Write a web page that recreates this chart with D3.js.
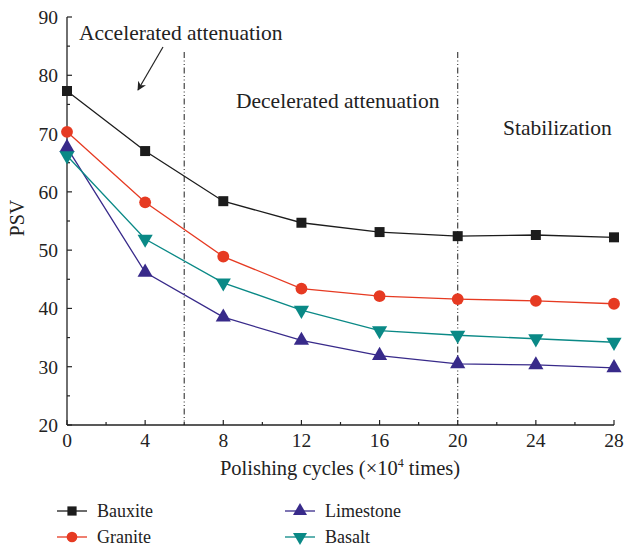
<!DOCTYPE html>
<html>
<head>
<meta charset="utf-8">
<script src="https://cdn.jsdelivr.net/npm/d3@7"></script>
<style>
  body { margin: 0; background: #fff; }
  text { font-family: "Liberation Serif", serif; fill: #222; }
</style>
</head>
<body>
<svg width="625" height="550"></svg>
<script>
const cycles = [0, 4, 8, 12, 16, 20, 24, 28];
const bauxite = [77.3, 67.0, 58.4, 54.7, 53.1, 52.4, 52.6, 52.2];
const granite = [70.3, 58.2, 48.9, 43.4, 42.1, 41.6, 41.3, 40.8];
const limestone = [67.6, 46.2, 38.5, 34.5, 31.9, 30.5, 30.3, 29.8];
const basalt = [66.2, 51.9, 44.4, 39.7, 36.2, 35.4, 34.8, 34.2];
const xTicks = [0, 4, 8, 12, 16, 20, 24, 28];
const yTicks = [20, 30, 40, 50, 60, 70, 80, 90];
const phaseBounds = [6, 20];

const series = [
  {name: 'Bauxite', values: bauxite, color: '#1c1c1c', shape: d3.symbolSquare, flip: false},
  {name: 'Granite', values: granite, color: '#e63a22', shape: d3.symbolCircle, flip: false},
  {name: 'Limestone', values: limestone, color: '#382a8a', shape: d3.symbolTriangle, flip: false},
  {name: 'Basalt', values: basalt, color: '#0a8986', shape: d3.symbolTriangle, flip: true},
];

const svg = d3.select('svg');
const x = d3.scaleLinear().domain([0, 28]).range([67, 614]);
const y = d3.scaleLinear().domain([20, 90]).range([425, 17]);

// phase separators (dash-dot-dot)
phaseBounds.forEach(b => {
  svg.append('line')
    .attr('x1', x(b)).attr('x2', x(b))
    .attr('y1', 52).attr('y2', y(20))
    .attr('stroke', '#333').attr('stroke-width', 1.1)
    .attr('stroke-dasharray', '6,2.5,1,2.5,1,2.5');
});

// axes
const g = svg.append('g');
g.append('line').attr('x1', x(0)).attr('x2', x(28)).attr('y1', y(20)).attr('y2', y(20))
  .attr('stroke', '#222').attr('stroke-width', 1.3);
g.append('line').attr('x1', x(0)).attr('x2', x(0)).attr('y1', y(20)).attr('y2', y(90))
  .attr('stroke', '#222').attr('stroke-width', 1.3);

d3.range(0, 29, 2).forEach(v => {
  const major = v % 4 === 0;
  g.append('line').attr('x1', x(v)).attr('x2', x(v))
    .attr('y1', y(20)).attr('y2', y(20) - (major ? 5 : 3))
    .attr('stroke', '#222').attr('stroke-width', 1.2);
});
d3.range(20, 91, 5).forEach(v => {
  const major = v % 10 === 0;
  g.append('line').attr('x1', x(0)).attr('x2', x(0) + (major ? 5 : 3))
    .attr('y1', y(v)).attr('y2', y(v))
    .attr('stroke', '#222').attr('stroke-width', 1.2);
});

g.selectAll('.xt').data(xTicks).join('text')
  .attr('x', d => x(d)).attr('y', y(20) + 22)
  .attr('text-anchor', 'middle').attr('font-size', 19.5)
  .text(d => d);
g.selectAll('.yt').data(yTicks).join('text')
  .attr('x', x(0) - 9).attr('y', d => y(d) + 7)
  .attr('text-anchor', 'end').attr('font-size', 19.5)
  .text(d => d);

svg.append('text')
  .attr('transform', 'translate(24,' + y(55.5) + ') rotate(-90)')
  .attr('text-anchor', 'middle').attr('font-size', 20)
  .text('PSV');

const xl = svg.append('text')
  .attr('x', 340).attr('y', 475)
  .attr('text-anchor', 'middle').attr('font-size', 20.5);
xl.append('tspan').text('Polishing cycles (×10');
xl.append('tspan').attr('font-size', 12).attr('dy', -8).text('4');
xl.append('tspan').attr('dy', 8).text(' times)');

// series
const line = d3.line().x((d, i) => x(cycles[i])).y(d => y(d));
series.forEach(s => {
  svg.append('path').datum(s.values)
    .attr('d', line).attr('fill', 'none')
    .attr('stroke', s.color).attr('stroke-width', 1.3);
  const sym = d3.symbol().type(s.shape).size(s.shape === d3.symbolCircle ? 110 : 100);
  svg.append('g').selectAll('path').data(s.values).join('path')
    .attr('d', sym)
    .attr('transform', (d, i) => 'translate(' + x(cycles[i]) + ',' + y(d) + ')' + (s.flip ? ' rotate(180)' : ''))
    .attr('fill', s.color);
});

// annotations
svg.append('text').attr('x', 79).attr('y', 40).attr('font-size', 21.5).text('Accelerated attenuation');
svg.append('text').attr('x', 236).attr('y', 108).attr('font-size', 21.5).text('Decelerated attenuation');
svg.append('text').attr('x', 503).attr('y', 135).attr('font-size', 21.5).text('Stabilization');

svg.append('defs').append('marker')
  .attr('id', 'arrow').attr('viewBox', '0 0 10 10')
  .attr('refX', 9).attr('refY', 5)
  .attr('markerWidth', 9).attr('markerHeight', 9)
  .attr('orient', 'auto-start-reverse').attr('markerUnits', 'userSpaceOnUse')
  .append('path').attr('d', 'M0,0 L10,5 L0,10 L3,5 Z').attr('fill', '#222');
svg.append('line')
  .attr('x1', 163).attr('y1', 47).attr('x2', 138).attr('y2', 90)
  .attr('stroke', '#222').attr('stroke-width', 1.2)
  .attr('marker-end', 'url(#arrow)');

// legend
const legendPos = [[57, 511], [57, 537], [285, 511], [285, 537]];
series.forEach((s, i) => {
  const [lx, ly] = legendPos[i];
  const lg = svg.append('g').attr('transform', 'translate(' + lx + ',' + ly + ')');
  lg.append('line').attr('x1', 0).attr('x2', 30).attr('y1', 0).attr('y2', 0)
    .attr('stroke', s.color).attr('stroke-width', 1.3);
  lg.append('path')
    .attr('d', d3.symbol().type(s.shape).size(s.shape === d3.symbolCircle ? 90 : 85))
    .attr('transform', 'translate(15,0)' + (s.flip ? ' rotate(180)' : ''))
    .attr('fill', s.color);
  lg.append('text').attr('x', 40).attr('y', 6).attr('font-size', 18).text(s.name);
});
</script>
</body>
</html>
